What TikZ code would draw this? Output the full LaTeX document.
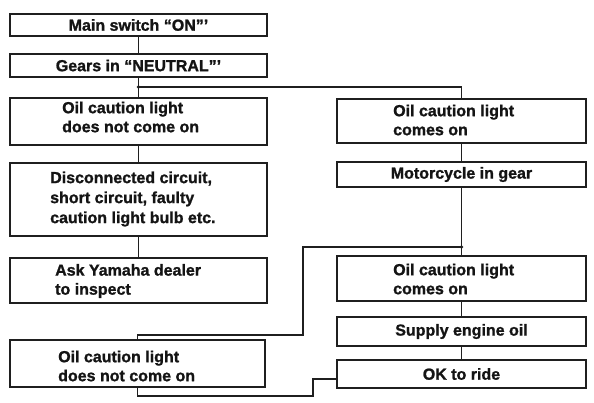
\documentclass[tikz,border=0pt]{standalone}
\usepackage{fontspec}
\setmainfont{Liberation Sans}[BoldFeatures={FakeBold=1.2}]
\begin{document}
\begin{tikzpicture}[x=1pt,y=-1pt]
\tikzset{
 box/.style={draw=black!88, line width=1.7pt, rectangle, inner sep=0pt},
 lbox/.style={box, minimum width=257pt},
 rbox/.style={box, minimum width=249pt},
 txt/.style={font=\bfseries\fontsize{16}{19}\selectfont, inner sep=0pt, align=left, text=black!92},
 wire/.style={line width=1.7pt, draw=black!88},
 dot/.style={fill=black!88},
}
\useasboundingbox[fill=white] (0,0) rectangle (594,403);
% left column
\node[lbox, minimum height=22pt] (L1) at (138.5,25) {};
\node[txt] (t1) at (L1.center) {Main switch “ON”’};
\node[lbox, minimum height=23pt] (L2) at (138.5,65.5) {};
\node[txt] (t2) at (L2.center) {Gears in “NEUTRAL”’};
\node[lbox, minimum height=47pt] (L3) at (138.5,121.5) {};
\node[txt, anchor=west] (t3) at (62,117) {Oil caution light\\does not come on};
\node[lbox, minimum height=73pt] (L4) at (138.5,199.5) {};
\node[txt, anchor=west, font=\bfseries\fontsize{16}{20}\selectfont] (t4) at (50,199) {Disconnected circuit,\\short circuit, faulty\\caution light bulb etc.};
\node[lbox, minimum height=45pt] (L5) at (138.5,280.5) {};
\node[txt, anchor=west] (t5) at (55,281) {Ask Yamaha dealer\\to inspect};
\node[box, minimum width=255pt, minimum height=47pt] (L6) at (137.5,363.5) {};
\node[txt, anchor=west] (t6) at (58,366) {Oil caution light\\does not come on};
% right column
\node[rbox, minimum height=44pt] (R1) at (461.5,121) {};
\node[txt, anchor=west] (r1) at (393,120) {Oil caution light\\comes on};
\node[rbox, minimum height=25pt] (R2) at (461.5,174.5) {};
\node[txt] (r2) at (R2.center) {Motorcycle in gear};
\node[rbox, minimum height=45pt] (R3) at (461.5,278.5) {};
\node[txt, anchor=west] (r3) at (393,279) {Oil caution light\\comes on};
\node[rbox, minimum height=29pt] (R4) at (461.5,331.5) {};
\node[txt] (r4) at (R4.center) {Supply engine oil};
\node[rbox, minimum height=28pt] (R5) at (461.5,374) {};
\node[txt] (r5) at (R5.center) {OK to ride};
% connectors
\coordinate (j1) at (138.5,87);
\coordinate (j2) at (461.5,247);
\coordinate (c1) at (303,335);
\coordinate (c2) at (313,396);
\coordinate (c3) at (313,379);
\draw[wire] (L1.south) -- (L2.north);
\draw[wire] (L2.south) -- (L3.north);
\draw[wire] (j1) -| (R1.north);
\draw[wire] (L3.south) -- (L4.north);
\draw[wire] (L4.south) -- (L5.north);
\draw[wire] (R1.south) -- (R2.north);
\draw[wire] (R2.south) -- (R3.north);
\draw[wire] (j2) -| (c1) -| (L6.north);
\draw[wire] (R3.south) -- (R4.north);
\draw[wire] (R4.south) -- (R5.north);
\draw[wire] (L6.south) |- (c2) -- (c3) -- (c3 -| R5.west);
\fill[dot] (j1) circle (1.8);
\fill[dot] (j2) circle (1.8);
\end{tikzpicture}
\end{document}
